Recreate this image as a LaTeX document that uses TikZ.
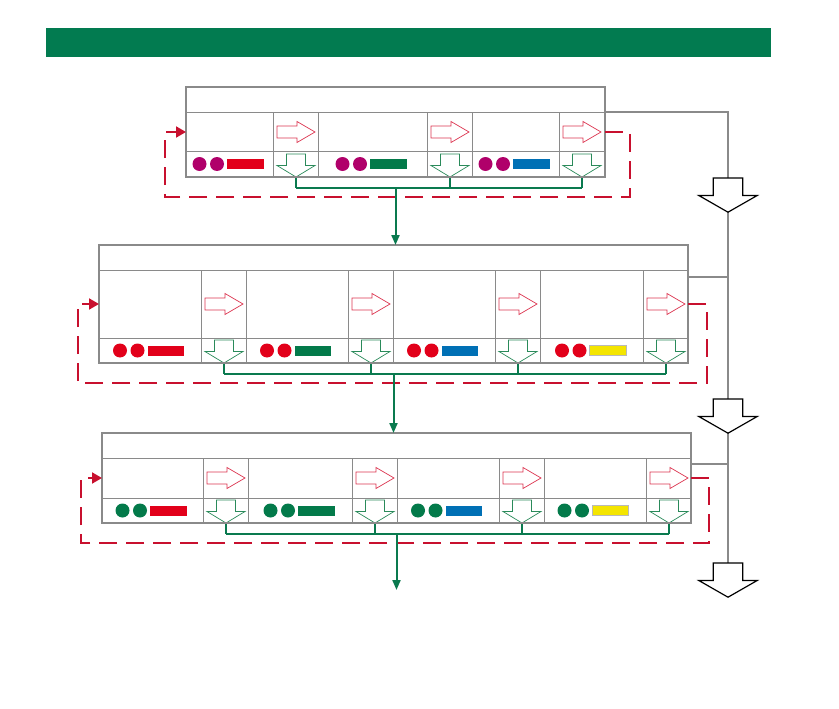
\documentclass[tikz,border=0pt]{standalone}
\usepackage{tikz}
\usetikzlibrary{arrows.meta,calc}
\definecolor{bannerG}{HTML}{027B50}
\definecolor{lineG}{HTML}{8A8A8A}
\definecolor{arrR}{HTML}{DC3550}
\definecolor{arrG}{HTML}{2A8A5A}
\definecolor{busG}{HTML}{0A7A4F}
\definecolor{loopR}{HTML}{C8102E}
\definecolor{magA}{HTML}{B0006A}
\definecolor{redB}{HTML}{E2001A}
\definecolor{grnC}{HTML}{037A4A}
\definecolor{bluD}{HTML}{0070B5}
\definecolor{yelE}{HTML}{F4E500}

\begin{document}
\begin{tikzpicture}[x=1pt,y=-1pt,
  frame/.style={draw=lineG,line width=2pt,inner sep=0pt,outer sep=0pt,anchor=north west},
  cell/.style={draw=lineG,line width=1pt},
  link/.style={draw=lineG,line width=1.5pt},
  flowR/.style={draw=arrR,line width=0.7pt,fill=white},
  flowG/.style={draw=arrG,line width=0.7pt,fill=white},
  bus/.style={draw=busG,line width=2pt},
  loopback/.style={draw=loopR,line width=2pt,dash pattern=on 18pt off 9pt},
  outflow/.style={draw=black,line width=1.2pt,fill=white},
  dotA/.style={fill=magA}, dotB/.style={fill=redB}, dotC/.style={fill=grnC},
  barR/.style={fill=redB}, barG/.style={fill=grnC}, barB/.style={fill=bluD},
  barY/.style={fill=yelE,draw=lineG!60,line width=0.8pt}]
\useasboundingbox (0,0) rectangle (839,709);
\node[fill=bannerG,minimum width=725pt,minimum height=29pt,inner sep=0pt] (banner) at (408.5,42.5) {};

% the three stages
\foreach \b/\lf/\rt/\tp/\hb/\mb/\bt/\dc/\dx/\n/\cols in {
    1/186/605/87/113/151/177/dotA/25/3/{186/273/barR,318/427/barG,472/559/barB},
    2/99/688/245/270/338/363/dotB/19/4/{99/201/barR,246/348/barG,393/495/barB,541/643/barY},
    3/102/691/433/458/498/523/dotC/18/4/{102/203/barR,249/352/barG,397/499/barB,543/646/barY}}{
  \pgfmathsetmacro{\ry}{(\hb+\mb)/2}
  \pgfmathsetmacro{\dy}{(\mb+\bt)/2}
  \node[frame,minimum width=(\rt-\lf)*1pt,minimum height=(\bt-\tp)*1pt] (b\b) at (\lf,\tp) {};
  \draw[cell] (\lf,\hb) -- (\rt,\hb) (\lf,\mb) -- (\rt,\mb);
  \foreach \cl/\al/\bc [count=\i] in \cols {
    \pgfmathsetmacro{\cx}{(\cl+\al)/2}
    \draw[cell] (\al,\hb) -- (\al,\bt) (\al+45,\hb) -- (\al+45,\bt);
    \draw[flowR] (\al+4,\ry-6) -- (\al+24,\ry-6) -- (\al+24,\ry-10.5) -- (\al+42,\ry)
      -- (\al+24,\ry+10.5) -- (\al+24,\ry+6) -- (\al+4,\ry+6) -- cycle;
    \draw[flowG] (\al+13.5,\bt-23) -- (\al+32.5,\bt-23) -- (\al+32.5,\bt-11.5) -- (\al+42,\bt-11.5)
      -- (\al+23,\bt) -- (\al+4,\bt-11.5) -- (\al+13.5,\bt-11.5) -- cycle;
    \coordinate (t\b-\i) at (\al+23,\bt);
    \path[\dc] (\cx-30,\dy) circle (7pt) (\cx-12.5,\dy) circle (7pt);
    \path[\bc] (\cx-2.5,\dy-5) rectangle (\cx+34,\dy+5);
    \draw[bus] (t\b-\i) -- ++(0,11);
  }
  \draw[frame] (\lf,\tp) rectangle (\rt,\bt);
  \draw[bus] ($(t\b-1)+(0,11)$) -- ($(t\b-\n)+(0,11)$);
  \coordinate (out\b) at ({(\lf+\rt)/2},\bt+11);
  \draw[loopback,-{Triangle[length=10pt,width=11pt]}] (b\b.east |- 0,\ry) -- ++(\dx,0)
    |- ($(b\b.south west)+(-21,20)$) |- (b\b.west |- 0,\ry);
}

% stage to stage
\coordinate (exit) at (out3 |- 0,590);
\draw[bus,-{Triangle[length=10pt,width=8pt]}] (out1) -- (out1 |- b2.north);
\draw[bus,-{Triangle[length=10pt,width=8pt]}] (out2) -- (out2 |- b3.north);
\draw[bus,-{Triangle[length=10pt,width=8pt]}] (out3) -- (exit);

% side outputs
\coordinate (o1) at (728,178);
\coordinate (o2) at (728,399);
\coordinate (o3) at (728,563);
\draw[link] (b1.east |- 0,112) -| (o1);
\draw[link] (o1) -- (o3);
\draw[link] (b2.east |- 0,277) -- (o2 |- 0,277);
\draw[link] (b3.east |- 0,464) -- (o3 |- 0,464);
\foreach \o in {o1,o2,o3}
  \draw[outflow] (\o) ++(-14.7,0) -- ++(29.4,0) -- ++(0,17.5) -- ++(14.5,0) -- ++(-29.2,16.7)
    -- ++(-29.2,-16.7) -- ++(14.5,0) -- cycle;
\end{tikzpicture}
\end{document}
